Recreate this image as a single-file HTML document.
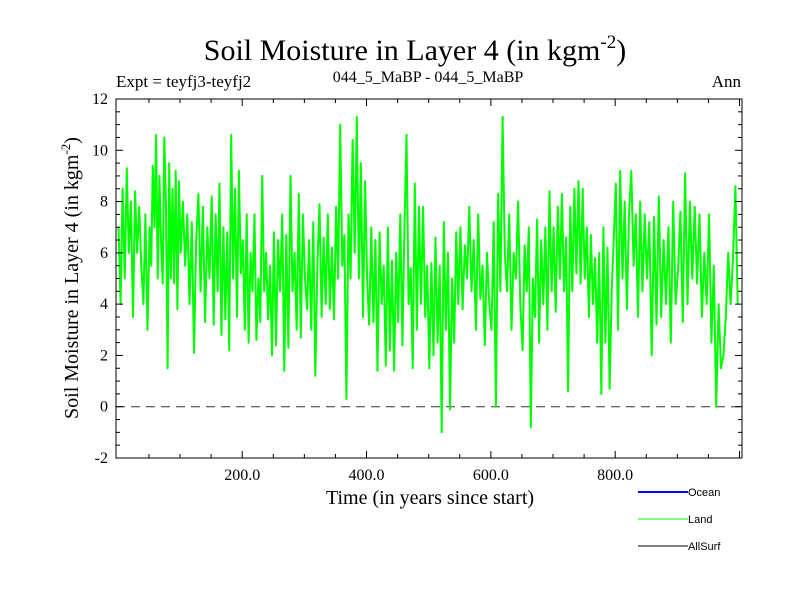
<!DOCTYPE html>
<html><head><meta charset="utf-8"><style>
body{margin:0;background:#fff;width:800px;height:600px;overflow:hidden}
svg text{font-family:"Liberation Serif",serif;fill:#000}
.lg{font-family:"Liberation Sans",sans-serif;font-size:11px}
</style></head><body>
<svg id="chart" width="800" height="600" viewBox="0 0 800 600">
<text x="415" y="60" font-size="30" text-anchor="middle">Soil Moisture in Layer 4 (in kgm<tspan dy="-12" font-size="19">-2</tspan><tspan dy="12">)</tspan></text>
<text x="116" y="87" font-size="17">Expt = teyfj3-teyfj2</text>
<text x="428" y="82" font-size="16" text-anchor="middle">044_5_MaBP - 044_5_MaBP</text>
<text x="741" y="87" font-size="17" text-anchor="end">Ann</text>
<g id="plot"></g>
<text x="430" y="504" font-size="20" text-anchor="middle">Time (in years since start)</text>
<text transform="translate(78,278) rotate(-90)" font-size="20" text-anchor="middle">Soil Moisture in Layer 4 (in kgm<tspan dy="-8" font-size="13">-2</tspan><tspan dy="8">)</tspan></text>
<g>
<line x1="638" y1="492" x2="688" y2="492" stroke="#0000ff" stroke-width="2"/>
<text class="lg" x="688" y="496">Ocean</text>
<line x1="638" y1="519" x2="688" y2="519" stroke="#00ff00" stroke-width="1"/>
<text class="lg" x="688" y="523">Land</text>
<line x1="638" y1="546" x2="688" y2="546" stroke="#000" stroke-width="1"/>
<text class="lg" x="688" y="550">AllSurf</text>
</g>
</svg>
<script>
// each row = one 50-year block of land values
const landBlocks=[
[7,4,8.5,5,9.3,6,8,3.5,8.4,6,7.8,5.5,4,7.5,3],
[7,5.5,9.4,7,10.6,5,9,6.5,4.8,10.5,8,1.5,9.5,5,8.5,4.8,9.2,3.8,8.8],
[6,8,5.5,7.5,4,7.2,2.1,6.5,8.3,4.5,7.8,3.3,7,5],
[8.2,3.2,7.5,4.5,8.7,2.8,7,3.4,6.8,2.2,10.6,5,8.5,3.5,9.2,5.2],
[6.5,3,7.5,2.5,6,4.5,7.5,2.6,5,3.3,9,4.5,6,3.4,5.5,2],
[6.8,2.4,6.5,4.5,7.5,1.4,6.7,2.3,9,4.5,6,3,8.3,2.7,7.5],
[5,3.8,6.5,3,7.2,1.2,5.5,7.9,3.5,6.6,4,7.5,3.8,6.2,3.4],
[7.8,5,11,5.5,6.7,0.3,7.5,5,10.4,6,11.3,5,9.5,3.5,8.8],
[5,3.2,7,3.3,6.5,1.4,6.8,4,5.5,1.6,7,2.2,5.7,1.4,6],
[3.3,7.5,2.4,6.9,10.6,4,5.4,1.5,8.7,3,7.8,4,7.8,3.5,5.5],
[1.5,5.6,2,6.6,2.5,5.5,-1,7.2,3,6,-0.1,5,2.5,6.8,4],
[7,3.8,6.3,5,7.8,4.5,6.5,3,7.5,4.2,5.5,2.4,6,4],
[3,7.2,0,8.3,4.5,11.3,6,4.5,7.5,3,6,5,8,4],
[2.2,6.3,4.5,7,-0.8,5,3.5,7.3,2.5,6.5,4,7,3,8.4,4.5],
[7,3.7,7.8,5,8.3,4.5,6.6,0.6,7.8,4.5,8.5,5.2,8.8,4.8,8.5],
[5,7,3.5,6.7,4,5.8,2.5,6,0.5,7,2.5,6.2,0.7,4.5,6.5],
[8.7,3,9.2,5,8,3.8,7.6,9.2,5.5,7.5,3.5,8,4.5,7.5],
[5,7.2,2,7.4,3.2,8.2,3.5,6.5,4,7,2.5,8,4],
[5.3,7.6,3.3,9.1,4,8,5,7.8,4.8,7.5,3.5,6,4],
[7.5,2.5,5.5,0,4,1.5,2,3.5,6,4,5.8,8.6,4]];
const blockYears=50;
const xTickValues=[200,400,600,800];
const xTickLabels=["200.0","400.0","600.0","800.0"];
const yTickValues=[-2,0,2,4,6,8,10,12];
const yTickLabels=["-2","0","2","4","6","8","10","12"];

const L=116,R=742,T=99,B=458,xMin=-3,xMax=1004,yMin=-2,yMax=12;
const sx=v=>L+(v-xMin)/(xMax-xMin)*(R-L);
const sy=v=>B-(v-yMin)/(yMax-yMin)*(B-T);
const NS="http://www.w3.org/2000/svg";
const g=document.getElementById('plot');
function mk(t,a){const e=document.createElementNS(NS,t);for(const k in a)e.setAttribute(k,a[k]);g.appendChild(e);return e;}
let z=mk('line',{x1:L,x2:R,y1:sy(0),y2:sy(0),stroke:'#333','stroke-dasharray':'9,6','stroke-width':1});


let d='',first=true;
landBlocks.forEach((blk,b)=>{blk.forEach((v,j)=>{const yr=1+b*blockYears+j*blockYears/blk.length;
 d+=(first?'M':'L')+sx(yr).toFixed(1)+','+sy(v).toFixed(1);first=false;});});
let p=mk('path',{d:d,fill:'none',stroke:'#00ff00','stroke-width':2,'stroke-linejoin':'round'});


let f=mk('rect',{x:L,y:T,width:R-L,height:B-T,fill:'none',stroke:'#000','stroke-width':1});


for(let v=50;v<=1000;v+=50){const maj=v%200===0;const x=sx(v);
 const a=mk('line',{x1:x,x2:x,y1:B,y2:B-(maj?7:4),stroke:'#000'});
 const b=mk('line',{x1:x,x2:x,y1:T,y2:T+(maj?7:4),stroke:'#000'});}
xTickValues.forEach((v,i)=>{const t=mk('text',{x:sx(v),y:B+22,'font-size':16,'text-anchor':'middle'});t.textContent=xTickLabels[i];
 });
for(let v=-2;v<=12.001;v+=0.5){const maj=Math.abs(v%2)<0.01;const y=sy(v);
 const a=mk('line',{x1:L,x2:L+(maj?7:4),y1:y,y2:y,stroke:'#000'});
 const b=mk('line',{x1:R,x2:R-(maj?7:4),y1:y,y2:y,stroke:'#000'});}
yTickValues.forEach((v,i)=>{const t=mk('text',{x:L-8,y:sy(v)+5,'font-size':16,'text-anchor':'end'});t.textContent=yTickLabels[i];
 });
</script>
</body></html>
